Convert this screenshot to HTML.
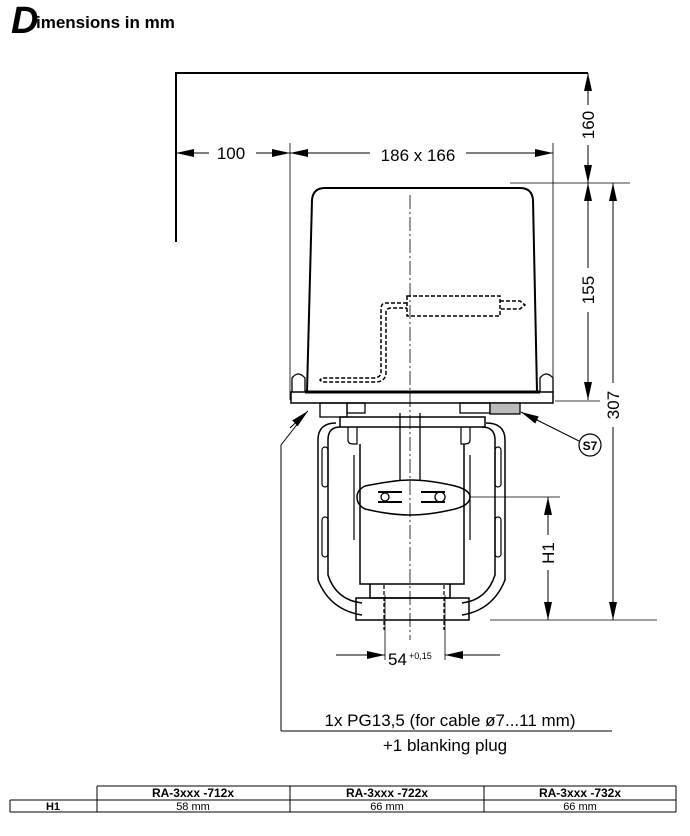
<!DOCTYPE html>
<html><head><meta charset="utf-8"><style>
body{margin:0;background:#fff;width:690px;height:836px;overflow:hidden}
svg{position:absolute;left:0;top:0}
text{font-family:"Liberation Sans",Arial,sans-serif;fill:#000}
</style></head><body>
<svg width="690" height="836" viewBox="0 0 690 836">
<defs>
<marker id="a" viewBox="0 0 18 8" refX="18" refY="4" markerWidth="18" markerHeight="8" orient="auto-start-reverse" markerUnits="userSpaceOnUse"><path d="M0,0 L18,4 L0,8 z" fill="#000"/></marker>
</defs>
<text x="11" y="33" font-size="38" font-weight="bold" font-style="italic">D</text>
<text x="36" y="28" font-size="17" font-weight="bold">imensions in mm</text>

<g stroke="#000" fill="none">
<path d="M176,242 V73 H588" stroke-width="2"/>
<path d="M290,143 V400 M553,143 V400 M510,183 H630 M555,401 H600 M490,620 H657 M470,497 H560" stroke-width="0.8"/>
<line x1="176" y1="153" x2="209" y2="153" stroke-width="1" marker-start="url(#a)"/>
<line x1="256" y1="153" x2="290" y2="153" stroke-width="1" marker-end="url(#a)"/>
<line x1="290" y1="153" x2="370" y2="153" stroke-width="1" marker-start="url(#a)"/>
<line x1="466" y1="153" x2="553" y2="153" stroke-width="1" marker-end="url(#a)"/>
<line x1="588" y1="73" x2="588" y2="105" marker-start="url(#a)"/>
<line x1="588" y1="145" x2="588" y2="183" marker-end="url(#a)"/>
<line x1="588" y1="183" x2="588" y2="268" marker-start="url(#a)"/>
<line x1="588" y1="312" x2="588" y2="400" marker-end="url(#a)"/>
<line x1="613" y1="183" x2="613" y2="383" marker-start="url(#a)"/>
<line x1="613" y1="427" x2="613" y2="620" marker-end="url(#a)"/>
<line x1="548" y1="497" x2="548" y2="535" marker-start="url(#a)"/>
<line x1="548" y1="570" x2="548" y2="620" marker-end="url(#a)"/>
<line x1="336" y1="655" x2="385" y2="655" marker-end="url(#a)"/>
<line x1="445" y1="655" x2="500" y2="655" marker-start="url(#a)"/>
<path d="M385,595 V660 M445,595 V660" stroke-width="0.8"/>
<line x1="410" y1="195" x2="410" y2="640" stroke-width="0.8" stroke-dasharray="14,3,2,3"/>
<path d="M307,392 L312,200 Q313,188 325,188 H520 Q532,188 533,200 L537,392" stroke-width="2"/>
<rect x="291" y="392" width="262" height="11" stroke-width="1.5"/>
<line x1="305" y1="392" x2="540" y2="392" stroke-width="3"/>
<path d="M292,392 V378 Q298,370 305,378 V392 M540,392 V378 Q546,370 553,378 V392" stroke-width="1.3"/>
<g stroke-dasharray="4,2" stroke-width="1.5">
<path d="M407,296 H500 V316 H407 Z"/>
<path d="M500,301 H520 L525,305 L520,309 H500"/>
<path d="M407,303 H386 Q381,303 381,309 V372 Q381,378 373,378 H322 L320,380 L322,382 H375 Q386,382 386,372 V312 Q386,308 392,308 H407"/>
</g>
<rect x="320" y="403" width="27" height="14" stroke-width="1.3"/>
<rect x="347" y="403" width="18" height="10" stroke-width="1.3"/>
<rect x="460" y="403" width="30" height="10" stroke-width="1.3"/>
<rect x="490" y="403" width="30" height="11" stroke-width="1.3" fill="#bbb"/>
<rect x="340" y="417" width="145" height="10" stroke-width="1.5"/>
<path d="M400,413 V480 M420,413 V480" stroke-width="1.3"/>
<path d="M336,423 Q318,423 318,440 V580 Q330,610 362,615 M486,423 Q505,423 505,440 V580 Q493,610 462,615" stroke-width="1.5"/>
<path d="M340,427 Q328,427 328,440 V575 Q336,600 362,603 M482,427 Q495,427 495,440 V575 Q487,600 462,603" stroke-width="1.5"/>
<path d="M348,427 V440 Q348,444 353,444 H357 V427 M470,427 V440 Q470,444 465,444 H461 V427" stroke-width="1.2"/>
<path d="M360,444 V584 H464 V444" stroke-width="1.5"/>
<path d="M354,455 V540 M470,455 V540" stroke-width="1.2"/>
<rect x="322" y="447" width="6" height="40" rx="3" stroke-width="1.2"/>
<rect x="322" y="517" width="6" height="40" rx="3" stroke-width="1.2"/>
<rect x="495" y="447" width="6" height="40" rx="3" stroke-width="1.2"/>
<rect x="495" y="517" width="6" height="40" rx="3" stroke-width="1.2"/>
<path d="M365,486 Q395,480 410,480 Q430,480 455,486 Q470,490 470,497 Q470,505 455,509 Q430,515 410,515 Q390,515 365,509 Q357,505 357,497 Q357,490 365,486 Z" stroke-width="1.5"/>
<path d="M378,492 H402 M378,502 H402 M421,492 H445 M421,502 H445" stroke-width="2"/>
<circle cx="385" cy="497" r="4" stroke-width="1.3"/>
<circle cx="440" cy="497" r="5" stroke-width="1.3"/>
<path d="M370,584 V598 H450 V584" stroke-width="1.5"/>
<rect x="356" y="598" width="113" height="22" stroke-width="1.5"/>
<path d="M384,585 V630 M444,585 V630" stroke-dasharray="4,2" stroke-width="1.2"/>
<path d="M281,731 V445 L306,413" stroke-width="1"/>
<line x1="290" y1="428" x2="308" y2="411" marker-end="url(#a)"/>
<line x1="281" y1="731" x2="612" y2="731" stroke-width="1"/>
<circle cx="590" cy="445" r="11" stroke-width="1.2"/>
<line x1="579" y1="441" x2="521" y2="412" marker-end="url(#a)"/>
</g>
<text x="231" y="159" font-size="17" text-anchor="middle">100</text>
<text x="418" y="161" font-size="17" text-anchor="middle">186 x 166</text>
<text transform="translate(594,125) rotate(-90)" font-size="17" text-anchor="middle">160</text>
<text transform="translate(594,290) rotate(-90)" font-size="17" text-anchor="middle">155</text>
<text transform="translate(619,405) rotate(-90)" font-size="17" text-anchor="middle">307</text>
<text transform="translate(554,553) rotate(-90)" font-size="17" text-anchor="middle">H1</text>
<text x="590" y="450" font-size="12" font-weight="bold" text-anchor="middle">S7</text>
<text x="388" y="665" font-size="17">54</text>
<text x="409" y="659" font-size="9">+0,15</text>
<text x="450" y="726" font-size="17" text-anchor="middle">1x PG13,5 (for cable ø7...11 mm)</text>
<text x="445" y="751" font-size="17" text-anchor="middle">+1 blanking plug</text>
<g stroke="#000" stroke-width="1" fill="none">
<path d="M97,786 H676 M10,800 H676 M10,812 H676 M97,786 V812 M290,786 V812 M484,786 V812 M676,786 V812 M10,800 V812"/>
</g>
<g font-size="12" text-anchor="middle">
<text x="193" y="797" font-weight="bold">RA-3xxx -712x</text>
<text x="387" y="797" font-weight="bold">RA-3xxx -722x</text>
<text x="580" y="797" font-weight="bold">RA-3xxx -732x</text>
<text x="53" y="810" font-weight="bold" font-size="11">H1</text>
<text x="193" y="810" font-size="11">58 mm</text>
<text x="387" y="810" font-size="11">66 mm</text>
<text x="580" y="810" font-size="11">66 mm</text>
</g>
</svg>
</body></html>
